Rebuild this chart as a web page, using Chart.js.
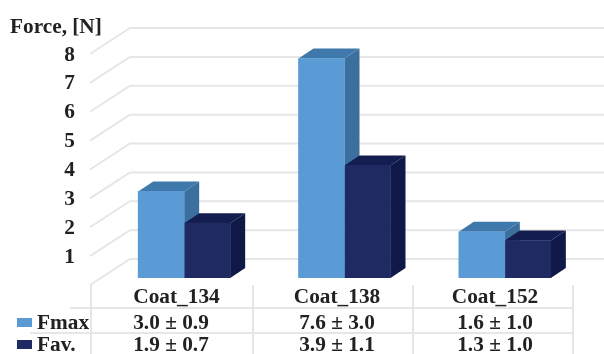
<!DOCTYPE html>
<html>
<head>
<meta charset="utf-8">
<style>
  html, body { margin: 0; padding: 0; background: #fff; }
  canvas { display: block; }
</style>
<script src="https://cdn.jsdelivr.net/npm/chart.js@4"></script>
</head>
<body>
<canvas id="chart" width="604" height="354"></canvas>
<script>
const categories = ['Coat_134', 'Coat_138', 'Coat_152'];
const fmaxMean = [3.0, 7.6, 1.6];
const fmaxDev = [0.9, 3.0, 1.0];
const favMean = [1.9, 3.9, 1.3];
const favDev = [0.7, 1.1, 1.0];
const seriesNames = ['Fmax', 'Fav.'];
const yTickValues = [0, 1, 2, 3, 4, 5, 6, 7, 8];

const FONT_SIZE = 21.3;
const FONT = 'bold ' + FONT_SIZE + 'px "Liberation Serif"';
const TEXT = '#222222';
const GRID = '#e6e6e6';
const FILLS = [
  { front: '#5b9bd5', top: '#3f78aa', side: '#3b6f9e' },
  { front: '#1f2a63', top: '#141d4f', side: '#0f1847' }
];
const DEPTH = { x: 15, y: 10 };
const WALL = { frontX: 90, frontDrop: 7, backX: 130, backRise: 19, right: 604 };

const formatCell = (mean, dev) => mean.toFixed(1) + ' ± ' + dev.toFixed(1);

// Back wall grid lines with their slanted run to the front of the floor.
const wallGrid = {
  id: 'wallGrid',
  beforeDatasetsDraw(chart) {
    const { ctx, scales: { y } } = chart;
    ctx.save();
    ctx.strokeStyle = GRID;
    ctx.lineWidth = 2;
    yTickValues.forEach(v => {
      const p = y.getPixelForValue(v);
      ctx.beginPath();
      ctx.moveTo(WALL.frontX, p + WALL.frontDrop);
      ctx.lineTo(WALL.backX, p - WALL.backRise);
      ctx.lineTo(WALL.right, p - WALL.backRise);
      ctx.stroke();
    });
    ctx.restore();
  }
};

// Extruded top and side faces behind each bar's front face.
const barDepth = {
  id: 'barDepth',
  beforeDatasetsDraw(chart) {
    const { ctx } = chart;
    ctx.save();
    chart.data.datasets.forEach((ds, di) => {
      chart.getDatasetMeta(di).data.forEach(bar => {
        const { x, y, base, width } = bar.getProps(['x', 'y', 'base', 'width'], true);
        const l = x - width / 2, r = x + width / 2;
        ctx.fillStyle = FILLS[di].side;
        ctx.beginPath();
        ctx.moveTo(r, y);
        ctx.lineTo(r + DEPTH.x, y - DEPTH.y);
        ctx.lineTo(r + DEPTH.x, base - DEPTH.y);
        ctx.lineTo(r, base);
        ctx.closePath();
        ctx.fill();
        ctx.fillStyle = FILLS[di].top;
        ctx.beginPath();
        ctx.moveTo(l, y);
        ctx.lineTo(l + DEPTH.x, y - DEPTH.y);
        ctx.lineTo(r + DEPTH.x, y - DEPTH.y);
        ctx.lineTo(r, y);
        ctx.closePath();
        ctx.fill();
      });
    });
    ctx.restore();
  }
};

// Axis caption and the data table under the plot.
const dataTable = {
  id: 'dataTable',
  afterDraw(chart) {
    const { ctx } = chart;
    const colEdges = [91, 253, 413, 573];
    const headCentres = [176.5, 337, 495];
    const cellCentres = [171, 337, 495];
    const rowY = [297, 323, 345];
    ctx.save();
    ctx.strokeStyle = GRID;
    ctx.lineWidth = 2;
    colEdges.forEach(x => {
      ctx.beginPath();
      ctx.moveTo(x, 285);
      ctx.lineTo(x, 354);
      ctx.stroke();
    });
    [[70, 308], [30, 333]].forEach(([x0, y]) => {
      ctx.beginPath();
      ctx.moveTo(x0, y);
      ctx.lineTo(colEdges[3], y);
      ctx.stroke();
    });

    ctx.font = FONT;
    ctx.fillStyle = TEXT;
    ctx.textBaseline = 'middle';
    ctx.textAlign = 'left';
    ctx.fillText('Force, [N]', 10, 27);

    ctx.textAlign = 'center';
    categories.forEach((c, i) => {
      ctx.fillText(c, headCentres[i], rowY[0]);
      ctx.fillText(formatCell(fmaxMean[i], fmaxDev[i]), cellCentres[i], rowY[1]);
      ctx.fillText(formatCell(favMean[i], favDev[i]), cellCentres[i], rowY[2]);
    });

    ctx.textAlign = 'left';
    seriesNames.forEach((name, i) => {
      const y = rowY[i + 1];
      ctx.fillStyle = FILLS[i].front;
      ctx.fillRect(17, y - 5, 15, 9);
      ctx.fillStyle = TEXT;
      ctx.fillText(name, 37, y);
    });
    ctx.restore();
  }
};

new Chart(document.getElementById('chart'), {
  type: 'bar',
  data: {
    labels: categories,
    datasets: [
      { label: seriesNames[0], data: fmaxMean, backgroundColor: FILLS[0].front },
      { label: seriesNames[1], data: favMean, backgroundColor: FILLS[1].front }
    ]
  },
  options: {
    responsive: false,
    animation: false,
    layout: { padding: { left: 0, right: 19, top: 47, bottom: 76 } },
    plugins: { legend: { display: false }, tooltip: { enabled: false } },
    datasets: { bar: { barThickness: 46, categoryPercentage: 1, barPercentage: 1 } },
    scales: {
      x: { display: false },
      y: {
        min: 0,
        max: 8,
        afterFit(scale) { scale.width = 104; },
        grid: { display: false },
        border: { display: false },
        ticks: {
          stepSize: 1,
          padding: 21,
          labelOffset: 8,
          color: TEXT,
          font: { family: 'Liberation Serif', size: FONT_SIZE, weight: 'bold' },
          callback: v => (v === 0 ? '' : v)
        }
      }
    }
  },
  plugins: [wallGrid, barDepth, dataTable]
});
</script>
</body>
</html>
